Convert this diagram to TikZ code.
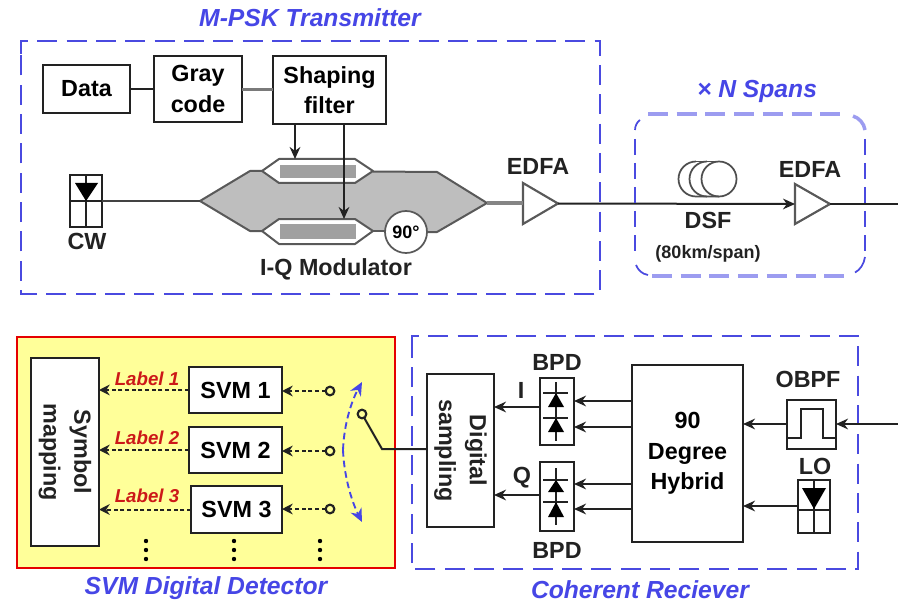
\documentclass[tikz,border=0pt]{standalone}
\usepackage{fontspec}
\setmainfont{Liberation Sans}
\usetikzlibrary{arrows.meta}
\definecolor{dblue}{HTML}{4A4AE0}
\definecolor{lblue}{HTML}{9C9CF0}
\definecolor{capblue}{HTML}{4646E6}
\definecolor{lab}{HTML}{CC1818}
\definecolor{yel}{HTML}{FFFF99}
\definecolor{modgrey}{HTML}{BEBEBE}
\definecolor{bargrey}{HTML}{A0A0A0}
\definecolor{wire}{HTML}{222222}
\tikzset{
  sz/.style 2 args={minimum width=#1*0.75pt,minimum height=#2*0.75pt},
  blk/.style={draw=wire,line width=1.5pt,fill=white,inner sep=0pt,outer sep=0pt,align=center,font=\fontsize{17.5}{23}\selectfont\bfseries},
  txt/.style={inner sep=0pt,align=center,text=wire,font=\fontsize{17.5}{23}\selectfont\bfseries},
  captxt/.style={inner sep=0pt,text=capblue,font=\fontsize{18.5}{21}\selectfont\bfseries\itshape},
  lbl/.style={inner sep=0pt,text=lab,font=\fontsize{14}{16}\selectfont\bfseries\itshape},
  grouped/.style={draw=dblue,line width=1.5pt,dash pattern=on 15pt off 7pt},
  wireln/.style={draw=wire,line width=1.5pt},
  arr/.style={wireln,-{Stealth[length=9pt,width=8pt]}},
  dotarr/.style={wireln,densely dashed,-{Stealth[length=8pt,width=8pt]}},
  swc/.style={circle,draw=wire,line width=1.6pt,fill=none,minimum size=6.5pt,inner sep=0pt,outer sep=0pt},
  amp/.style={draw=wire!75,line width=1.6pt,line join=miter,fill=white},
  armhex/.style={draw=wire!75,line width=1.5pt,fill=white,line join=round},
  sweep/.style={draw=capblue,line width=1.4pt,dash pattern=on 5pt off 3pt,-{Stealth[length=10pt,width=9pt]}},
  thinln/.style={draw=wire,line width=1.3pt},
  coil/.style={draw=wire!80,line width=1.3pt},
  sidedash/.style={draw=dblue,line width=1.3pt},
  flatdash/.style={draw=lblue,line width=3pt},
}
\begin{document}
\begin{tikzpicture}[x=0.75pt,y=-0.75pt]
\useasboundingbox (0,0) rectangle (898,602);
\fill[white] (0,0) rectangle (898,602);

% Transmitter
\draw[grouped] (21,54) -- (21,41) -- (600,41) -- (600,294) -- (21,294) -- cycle;
\node[captxt] (ttx) at (310,18) {M-PSK Transmitter};
\node[blk,sz={87}{48}] (data) at (86.5,89) {Data};
\node[blk,sz={88}{66}] (gray) at (198,89) {Gray\\code};
\node[blk,sz={113}{68}] (shape) at (329.5,90) {Shaping\\filter};
\draw[wireln] (data) -- (gray);
\draw[draw=wire!60,line width=2.2pt] (gray.east |- 0,89.5) -- (shape.west |- 0,89.5);

% Modulator
\fill[modgrey] (200,201) -- (250,171) -- (437,172) -- (487,203) -- (437,232) -- (250,231) -- cycle;
\draw[draw=wire!75,line width=1.5pt,line join=round] (262,171) -- (250,171) -- (200,201) -- (250,231) -- (262,231);
\draw[draw=wire!75,line width=1.5pt,line join=round] (373,171.5) -- (437,172) -- (487,203) -- (437,232) -- (427,232);
\draw[armhex] (262,171) -- (279,159) -- (355,159) -- (373,171) -- (355,183) -- (279,183) -- cycle;
\draw[armhex] (262,231) -- (279,219) -- (355,219) -- (373,231) -- (355,244) -- (279,244) -- cycle;
\fill[bargrey] (280,165) rectangle (356,178);
\fill[bargrey] (280,224) rectangle (356,239);
\draw[draw=wire!75,line width=1.5pt] (373,231) -- (386,231);
\node[circle,draw=wire!75,line width=1.3pt,fill=white,minimum size=31.5pt,inner sep=0pt,font=\fontsize{13.5}{15}\selectfont\bfseries] (ph) at (406,232) {90°};
\coordinate (armI) at (295,159);
\coordinate (armQ) at (344,219);
\draw[arr] (shape.south -| armI) -- (armI);
\draw[arr] (shape.south -| armQ) -- (armQ);
\node[txt] (iq) at (336,269) {I-Q Modulator};

% CW laser
\node[blk,sz={32}{51}] (cw) at (86,201) {};
\draw[thinln] (cw.west) -- (cw.east);
\draw[thinln] (cw.north) -- (cw.south);
\fill[black] (75,183) -- (98,183) -- (86,201) -- cycle;
\node[txt] (cwt) at (87,241) {CW};
\coordinate (modin) at (200,201);
\draw[draw=wire!85,line width=1.8pt] (cw.east) -- (modin);

% EDFA 1, DSF, EDFA 2
\coordinate (modout) at (487,203);
\draw[amp] (523,183) -- (558,203.5) -- (523,224) -- cycle;
\coordinate (a1in) at (523,203);
\coordinate (a1out) at (558,203.5);
\draw[draw=wire!55,line width=2.6pt] (modout) -- (a1in);
\node[txt] (e1) at (538,166) {EDFA};
\draw[amp] (795,184) -- (830,204) -- (795,224) -- cycle;
\coordinate (a2in) at (795,204);
\coordinate (a2out) at (830,204);
\coordinate (fibend) at (898,204);
\draw[arr] (a1out) -- (a2in);
\draw[wireln] (a2out) -- (fibend);
\node[txt] (e2) at (810,169) {EDFA};
\draw[coil] (696,161.5) arc[start angle=-90,end angle=-270,radius=17.5] -- (719,196.5);
\draw[coil] (696,161.5) -- (719,161.5);
\draw[coil] (707,161.5) arc[start angle=-90,end angle=-270,radius=17.5];
\draw[coil] (719,179) circle[radius=17.5];
\node[txt] (dsf) at (708,220) {DSF};
\node[txt,font=\fontsize{13.5}{15}\selectfont\bfseries] (km) at (708,254) {(80km/span)};

% Spans frame: individual dashes
\foreach \k in {0,...,4}{
  \draw[sidedash] (635,{139+24*\k}) -- (635,{139+24*\k+16});
  \draw[sidedash] (865,{139+24*\k}) -- (865,{139+24*\k+16});
}
\foreach \k in {0,...,6}{
  \draw[flatdash] ({648+28.7*\k},114.5) -- ({668+28.7*\k},114.5);
  \draw[flatdash] ({652+28.7*\k},275.5) -- ({672+28.7*\k},275.5);
}
\draw[draw=dblue,line width=1.3pt] (635,130) .. controls (635,126) and (637,122) .. (640,120);
\draw[flatdash,line width=2.6pt] (853,116) .. controls (859,118) and (864,123) .. (865,130);
\draw[draw=dblue,line width=1.3pt] (636,265) .. controls (638,270) and (642,274) .. (648,275);
\draw[draw=dblue,line width=1.3pt] (855,272.5) .. controls (860,270) and (864,264) .. (865,257);
\node[captxt] (tsp) at (757,91) {× N Spans};

% SVM detector
\draw[draw=red!90!black,line width=1.5pt,fill=yel] (17,337) rectangle (395,568);
\node[captxt] (tsvm) at (206,588) {SVM Digital Detector};
\node[blk,sz={68}{188}] (sym) at (65,452) {};
\node[txt,rotate=-90] at (65,452) {Symbol\\mapping};
\node[blk,sz={93}{46}] (svm1) at (235.5,390) {SVM 1};
\node[blk,sz={93}{46}] (svm2) at (235.5,450) {SVM 2};
\node[blk,sz={91}{47}] (svm3) at (236.5,509.5) {SVM 3};
\node[swc] (c1) at (330,391) {};
\node[swc] (c2) at (330,451) {};
\node[swc] (c3) at (330,509) {};
\node[swc] (c0) at (362,414) {};
\draw[dotarr] (svm1.west) -- (sym.east |- svm1.west);
\draw[dotarr] (svm2.west) -- (sym.east |- svm2.west);
\draw[dotarr] (svm3.west) -- (sym.east |- svm3.west);
\draw[dotarr] (c1) -- (svm1.east |- c1);
\draw[dotarr] (c2) -- (svm2.east |- c2);
\draw[dotarr] (c3) -- (svm3.east |- c3);
\node[lbl] (l1) at (147,379) {Label 1};
\node[lbl] (l2) at (147,438) {Label 2};
\node[lbl] (l3) at (147,496) {Label 3};
\foreach \xx in {146,234,320}{\foreach \yy in {541,550,559}{\fill[black] (\xx,\yy) circle[radius=2.2];}}
\draw[sweep] (343,450) .. controls (344,425) and (351,402) .. (362,382);
\draw[sweep] (343,450) .. controls (344,475) and (351,500) .. (362,522);

% Coherent receiver
\draw[grouped] (412,349) -- (412,336) -- (858,336) -- (858,569) -- (412,569) -- cycle;
\node[captxt] (tco) at (640,590) {Coherent Reciever};
\node[blk,sz={67}{153}] (dig) at (460.5,450.5) {};
\node[txt,rotate=-90] at (460.5,450.5) {Digital\\sampling};
\node[blk,sz={34}{67}] (b1) at (557,411.5) {};
\node[blk,sz={34}{69}] (b2) at (557,496.5) {};
\node[blk,sz={111}{177}] (hy) at (687.5,453.5) {90\\Degree\\Hybrid};
\node[blk,sz={49}{49}] (ob) at (811.5,424.5) {};
\node[blk,sz={32}{53}] (lo) at (814,506.5) {};
% diodes
\draw[thinln] (556,382) -- (556,441);
\draw[thinln] (543,393) -- (568,393);
\draw[thinln] (543,418) -- (568,418);
\fill[black] (556,393) -- (564,407) -- (548,407) -- cycle;
\fill[black] (556,418) -- (564,432) -- (548,432) -- cycle;
\draw[thinln] (556,468) -- (556,525);
\draw[thinln] (543,480) -- (568,480);
\draw[thinln] (543,502) -- (568,502);
\fill[black] (556,480) -- (564,492) -- (548,492) -- cycle;
\fill[black] (556,502) -- (564,517) -- (548,517) -- cycle;
% filter
\draw[thinln,line join=miter] (787,438) -- (801,438) -- (801,409) -- (823,409) -- (823,438) -- (836,438);
% LO
\draw[thinln] (lo.west |- 0,510) -- (lo.east |- 0,510);
\draw[thinln] (lo.north) -- (lo.south);
\fill[black] (802,488) -- (826,488) -- (814,509) -- cycle;
% links
\coordinate (wirej) at (382,449);
\coordinate (inr) at (898,424);
\draw[wireln] (c0) -- (wirej) -- (dig.west |- wirej);
\draw[arr] (b1.west |- 0,407) -- (dig.east |- 0,407);
\draw[arr] (b2.west |- 0,495) -- (dig.east |- 0,495);
\draw[arr] (hy.west |- 0,401) -- (b1.east |- 0,401);
\draw[arr] (hy.west |- 0,427) -- (b1.east |- 0,427);
\draw[arr] (hy.west |- 0,484) -- (b2.east |- 0,484);
\draw[arr] (hy.west |- 0,509) -- (b2.east |- 0,509);
\draw[arr] (ob.west |- 0,424) -- (hy.east |- 0,424);
\draw[arr] (lo.west |- 0,506) -- (hy.east |- 0,506);
\draw[arr] (inr) -- (ob.east |- inr);
\node[txt] (ti) at (521,390) {I};
\node[txt] (tq) at (522,478) {Q};
\node[txt] (tb1) at (557,362) {BPD};
\node[txt] (tb2) at (557,550) {BPD};
\node[txt] (tob) at (808,379) {OBPF};
\node[txt] (tlo) at (815,466) {LO};
\end{tikzpicture}
\end{document}
